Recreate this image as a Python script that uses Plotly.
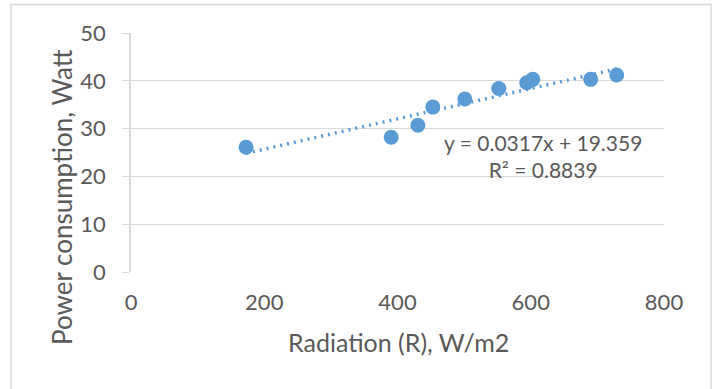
import plotly.graph_objects as go

# Data
radiation = [172.7, 390.5, 430.6, 453, 501, 552, 594, 603, 690, 729]
power = [26.1, 28.2, 30.7, 34.5, 36.2, 38.4, 39.6, 40.3, 40.3, 41.2]

# Trendline coefficients as displayed in the chart
slope = 0.0317
intercept = 19.359
r_squared = 0.8839

x_ticks = [0, 200, 400, 600, 800]
y_ticks = [0, 10, 20, 30, 40, 50]

BLUE = "#5B9BD5"
TEXT = "#595959"
GRID = "#D9D9D9"
FONT = "Lato"

trend_x = [min(radiation), max(radiation)]
trend_y = [slope * v + intercept for v in trend_x]

fig = go.Figure()
fig.add_trace(go.Scatter(
    x=trend_x, y=trend_y, mode="lines",
    line=dict(color=BLUE, width=3.5, dash="2px,5px"),
    hoverinfo="skip", showlegend=False,
))
fig.add_trace(go.Scatter(
    x=radiation, y=power, mode="markers",
    marker=dict(color=BLUE, size=15, line=dict(width=0)),
    showlegend=False,
))

W, H = 718, 389
L, R, T, B = 131, 54, 33, 117
pw, ph = W - L - R, H - T - B

def px_x(p):
    return (p - L) / pw

def px_y(p):
    return (H - B - p) / ph

fig.update_layout(
    width=W, height=H,
    margin=dict(l=L, r=R, t=T, b=B),
    paper_bgcolor="white", plot_bgcolor="white",
    font=dict(family=FONT, color=TEXT, size=22),
    xaxis=dict(
        range=[0, 800], tickvals=x_ticks, showgrid=False, zeroline=False,
        showline=False, ticks="", ticklabelstandoff=15,
        tickfont=dict(size=22, color=TEXT, family=FONT),
    ),
    yaxis=dict(
        range=[0, 50], tickvals=y_ticks, showgrid=True, gridcolor=GRID, gridwidth=1,
        zeroline=False, showline=True, linecolor=GRID, linewidth=1.5,
        ticks="outside", ticklen=7, tickcolor=GRID, ticklabelstandoff=12,
        tickfont=dict(size=22, color=TEXT, family=FONT),
    ),
    shapes=[dict(
        type="rect", xref="paper", yref="paper",
        x0=px_x(11), x1=px_x(711), y0=px_y(395), y1=px_y(4.5),
        line=dict(color="#D9D9D9", width=1.5), fillcolor="rgba(0,0,0,0)", layer="below",
    )],
    annotations=[
        dict(
            x=618.4, y=24.3, xref="x", yref="y",
            xanchor="center", yanchor="middle",
            text=f"y = {slope}x + {intercept}<br>R² = {r_squared}",
            showarrow=False, align="center",
            font=dict(size=21, color=TEXT, family=FONT),
        ),
        dict(
            x=px_x(398), y=px_y(342), xref="paper", yref="paper",
            xanchor="center", yanchor="middle",
            text="Radiation (R), W/m2", showarrow=False,
            font=dict(size=25, color=TEXT, family=FONT),
        ),
        dict(
            x=px_x(62), y=px_y(197), xref="paper", yref="paper",
            xanchor="center", yanchor="middle",
            text="Power consumption, Watt", showarrow=False, textangle=-90,
            font=dict(size=26, color=TEXT, family=FONT),
        ),
    ],
)

fig.write_html(
    "out.html",
    config={"displayModeBar": False},
    post_script="document.body.style.margin='0';document.body.style.overflow='hidden';",
)
